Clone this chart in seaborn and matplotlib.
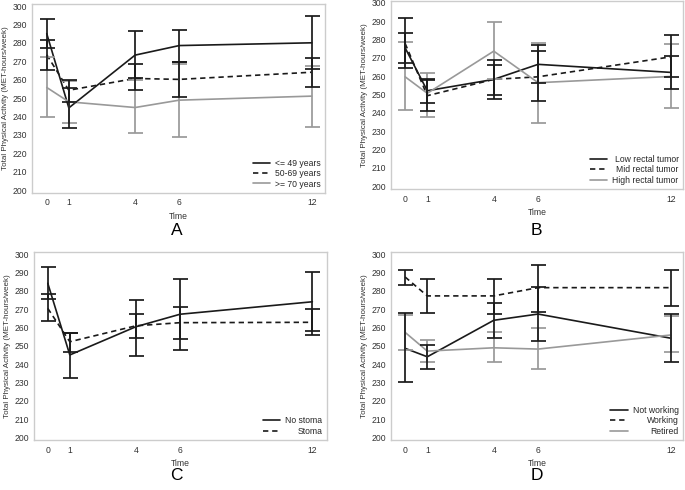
import numpy as np
import pandas as pd
import matplotlib
matplotlib.use("Agg")
import matplotlib.pyplot as plt
import seaborn as sns

# time points (months) shared by all panels
time_points = [0, 1, 4, 6, 12]

# panel A - age
age_groups = ["<= 49 years", "50-69 years", ">= 70 years"]
age_mean = [[285.1, 244.7, 273.4, 278.6, 280.1],
            [273.6, 254.3, 260.7, 260.2, 264.1],
            [255.8, 248.0, 244.9, 248.9, 251.1]]
age_lo = [[277.2, 233.7, 260.9, 269.7, 265.6],
          [265.4, 248.0, 254.2, 250.7, 256.0],
          [239.7, 236.6, 231.1, 229.0, 234.4]]
age_hi = [[292.8, 255.7, 286.4, 287.1, 294.7],
          [281.7, 259.6, 268.5, 269.7, 271.6],
          [272.5, 259.3, 259.8, 268.8, 267.6]]

# panel B - tumour height
tumor_groups = ["Low rectal tumor", "Mid rectal tumor", "High rectal tumor"]
tumor_mean = [[275.4, 252.0, 258.2, 266.4, 262.0],
              [277.8, 249.3, 258.2, 259.6, 270.5],
              [259.6, 250.6, 273.6, 256.4, 259.8]]
tumor_lo = [[267.3, 245.4, 247.5, 256.0, 252.9],
            [264.5, 240.9, 249.8, 246.5, 259.3],
            [241.5, 237.8, 258.4, 234.5, 242.4]]
tumor_hi = [[283.5, 258.4, 268.6, 276.9, 271.0],
            [291.5, 257.7, 266.0, 273.6, 282.4],
            [278.4, 261.5, 289.3, 278.2, 277.3]]

# panel C - stoma
stoma_groups = ["No stoma", "Stoma"]
stoma_mean = [[284.2, 245.1, 260.5, 267.3, 274.1],
              [270.5, 252.3, 261.0, 262.7, 262.9]]
stoma_lo = [[275.5, 232.7, 244.7, 247.8, 258.2],
            [263.4, 246.9, 254.5, 253.6, 256.0]]
stoma_hi = [[292.9, 257.0, 274.9, 286.7, 290.5],
            [278.2, 257.0, 267.3, 271.1, 270.2]]

# panel D - work status
work_groups = ["Not working", "Working", "Retired"]
work_mean = [[248.7, 244.1, 264.0, 267.4, 254.2],
             [287.6, 277.3, 277.3, 281.8, 281.8],
             [257.4, 247.2, 249.0, 248.3, 256.0]]
work_lo = [[230.2, 237.4, 254.5, 252.9, 241.4],
           [283.4, 268.0, 267.3, 268.7, 272.0],
           [248.0, 241.1, 241.1, 237.3, 246.9]]
work_hi = [[268.0, 250.5, 273.3, 281.9, 267.3],
           [291.6, 286.4, 286.7, 294.0, 291.4],
           [266.9, 253.2, 257.4, 259.6, 266.2]]

BLACK = "#1a1a1a"
GRAY = "#999999"
styles = [(BLACK, ""), (BLACK, (3.2, 2.3)), (GRAY, "")]

sns.set_style("white")
plt.rcParams["font.family"] = ["Liberation Sans", "DejaVu Sans"]

fig = plt.figure(figsize=(6.85, 4.9), dpi=100)


def panel(rect, groups, means, los, his, letter, letter_xy, xlim, ylim):
    ax = fig.add_axes(rect)
    rows = []
    for g, m in zip(groups, means):
        for t, v in zip(time_points, m):
            rows.append({"Time": t, "value": v, "group": g})
    df = pd.DataFrame(rows)
    pal = {g: styles[i][0] for i, g in enumerate(groups)}
    dsh = {g: styles[i][1] for i, g in enumerate(groups)}
    sns.lineplot(data=df, x="Time", y="value", hue="group", style="group",
                 palette=pal, dashes=dsh, hue_order=groups, style_order=groups,
                 linewidth=1.2, ax=ax)
    # error bars, gray group first so the black ones sit on top
    for i in reversed(range(len(groups))):
        m = np.array(means[i])
        err = [m - np.array(los[i]), np.array(his[i]) - m]
        ax.errorbar(time_points, m, yerr=err, fmt="none", ecolor=styles[i][0],
                    elinewidth=1.25, capsize=5.4, capthick=1.25, zorder=3)
    h, l = ax.get_legend_handles_labels()
    leg = ax.legend(h, l, loc="lower right", frameon=False, fontsize=6.2,
                    handlelength=2.0, handletextpad=0.6, labelspacing=0.15,
                    borderaxespad=0.1)
    for ln in leg.get_lines():
        ln.set_linewidth(1.2)
    # right-align the legend labels (offsets in pixels)
    renderer = fig.canvas.get_renderer()
    widths = [t.get_window_extent(renderer).width for t in leg.get_texts()]
    for t, w in zip(leg.get_texts(), widths):
        t.set_position((max(widths) - w, 0))
    ax.set_xlim(*xlim)
    ax.set_ylim(*ylim)
    ax.set_xticks(time_points)
    ax.set_yticks(range(200, 301, 10))
    ax.tick_params(axis="both", labelsize=6.2, colors="#333333", pad=1.5)
    ax.tick_params(axis="x", length=0, pad=4)
    ax.tick_params(axis="y", length=2, width=0.6, color="#999999")
    ax.set_xlabel("Time", fontsize=6.2, color="#333333", labelpad=3)
    ax.set_ylabel("Total Physical Activity (MET-hours/week)", fontsize=5.8,
                  color="#333333", labelpad=2.5)
    for s in ax.spines.values():
        s.set_color("#cccccc")
        s.set_linewidth(1.0)
    fig.text(letter_xy[0], letter_xy[1], letter, fontsize=12.5,
             ha="center", va="center", color="black")
    return ax


panel([0.0463, 0.6065, 0.4282, 0.3853], age_groups, age_mean, age_lo, age_hi,
      "A", (0.258, 0.529), (-0.68, 12.6), (198.5, 301.2))
panel([0.5704, 0.6143, 0.4267, 0.3827], tumor_groups, tumor_mean, tumor_lo,
      tumor_hi, "B", (0.7835, 0.529), (-0.65, 12.54), (198.4, 300.7))
panel([0.0501, 0.1020, 0.4268, 0.3843], stoma_groups, stoma_mean, stoma_lo,
      stoma_hi, "C", (0.258, 0.0306), (-0.61, 12.65), (198.7, 301.4))
panel([0.5704, 0.1020, 0.4267, 0.3843], work_groups, work_mean, work_lo,
      work_hi, "D", (0.7835, 0.0306), (-0.65, 12.54), (198.7, 301.4))

fig.savefig("out.png", dpi=100)
